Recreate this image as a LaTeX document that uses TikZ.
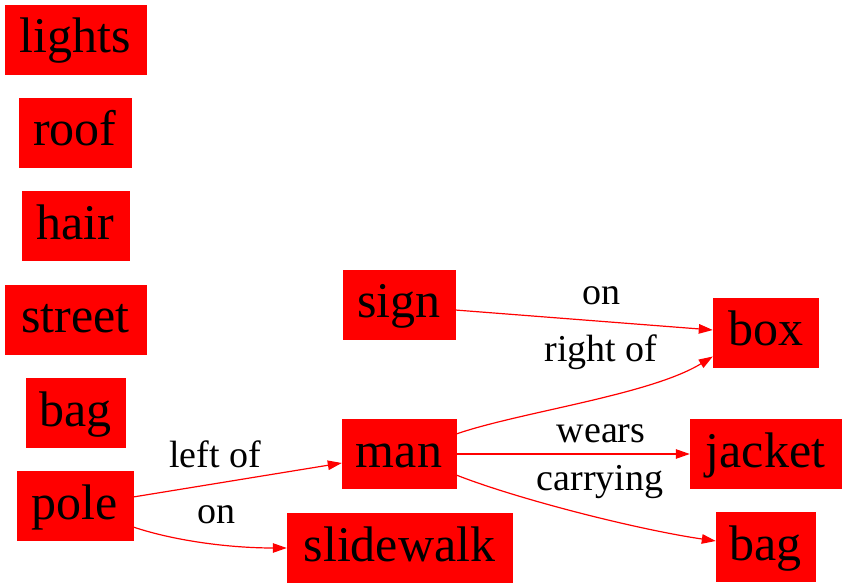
\documentclass[tikz,border=0pt]{standalone}
\usepackage{fontspec}
\setmainfont{Liberation Serif}
\usetikzlibrary{arrows.meta}
\tikzset{
  objbox/.style={fill=red,draw=red,line width=0.4pt,inner sep=0pt,minimum height=69pt,
    text height=27pt,text depth=0pt,font=\fontsize{50}{60}\selectfont,text=black},
  rel/.style={anchor=base,inner sep=0pt,font=\fontsize{38}{46}\selectfont,text=black},
  conn/.style={draw=red,line width=1.2pt,-{Triangle[length=14pt,width=9.5pt]},red}
}
\begin{document}
\begin{tikzpicture}[x=1pt,y=-1pt]
\useasboundingbox (0,0) rectangle (847,588);
% left column
\node[objbox,minimum width=141pt] (lights) at (75.5,39.5) {lights};
\node[objbox,minimum width=112pt] (roof) at (75,132.5) {roof};
\node[objbox,minimum width=107pt] (hair) at (75.5,226) {hair};
\node[objbox,minimum width=141pt] (street) at (75.5,319.5) {street};
\node[objbox,minimum width=99pt] (bagL) at (75.5,412.5) {bag};
\node[objbox,minimum width=116pt] (pole) at (75,506) {pole};
% middle
\node[objbox,minimum width=112pt] (sign) at (399,304.5) {sign};
\node[objbox,minimum width=114pt] (man) at (399,454) {man};
\node[objbox,minimum width=225pt] (slidewalk) at (399.5,547.5) {slidewalk};
% right
\node[objbox,minimum width=105pt] (box) at (765.5,332.5) {box};
\node[objbox,minimum width=151pt] (jacket) at (765.5,454) {jacket};
\node[objbox,minimum width=99pt] (bagR) at (765.5,547) {bag};
% edges
\draw[conn] ([yshift=9pt]pole.east) -- ([yshift=-9pt]man.west);
\draw[conn] ([yshift=-21pt]pole.east) .. controls (175,541) and (230,548) .. ([yshift=-0.5pt]slidewalk.west);
\draw[conn] ([yshift=-5.5pt]sign.east) -- ([yshift=2.5pt]box.west);
\draw[conn] ([yshift=20pt]man.east) .. controls (520,412) and (650,395) .. ([yshift=-24pt]box.west);
\draw[conn] (man.east) -- (jacket.west);
\draw[conn] ([yshift=-21pt]man.east) .. controls (520,500) and (640,530) .. ([yshift=6pt]bagR.west);
% labels
\node[rel] (l1) at (215,467) {left of};
\node[rel] (l2) at (216,523) {on};
\node[rel] (l3) at (601,305) {on};
\node[rel] (l4) at (601,362) {right of};
\node[rel] (l5) at (601,442) {wears};
\node[rel] (l6) at (600,490) {carrying};
\end{tikzpicture}
\end{document}
